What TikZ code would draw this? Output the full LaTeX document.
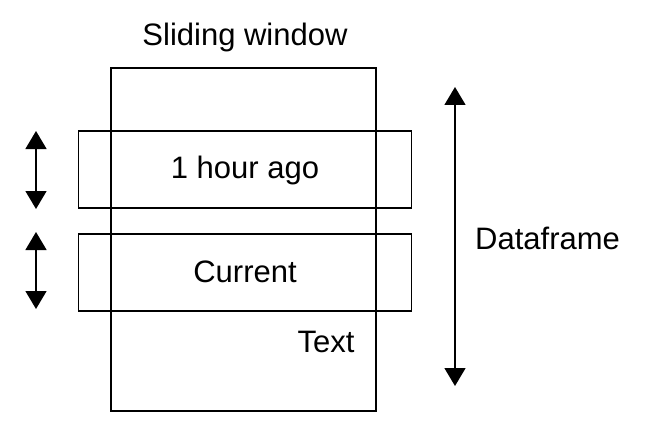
\documentclass[tikz,border=0pt]{standalone}
\usepackage{fontspec}
\setmainfont{Liberation Sans}
\usetikzlibrary{arrows.meta}
\begin{document}
\begin{tikzpicture}[x=1pt,y=-1pt,
  box/.style={draw=black,line width=1.5pt,minimum width=#1,inner sep=0pt,outer sep=0pt},
  lbl/.style={font=\fontsize{31}{34}\selectfont,inner sep=0pt},
  dbl/.style={line width=1.5pt,{Triangle[length=18pt,width=21pt]}-{Triangle[length=18pt,width=21pt]}}]
\useasboundingbox (0,0) rectangle (646,436);
\node[box=265pt,minimum height=343pt] (win) at (243.5,239.5) {};
\node[box=333pt,minimum height=77pt] (hour) at (245,169.5) {};
\node[box=333pt,minimum height=77pt] (cur) at (245,272.5) {};
\node[lbl] (title) at (245,37) {Sliding window};
\node[lbl] (hourlbl) at (245,170) {1 hour ago};
\node[lbl] (curlbl) at (245,272) {Current};
\node[lbl] (text) at (326,342) {Text};
\node[lbl,anchor=west] (df) at (475,238) {Dataframe};
\coordinate (a1t) at (36,131);
\coordinate (a1b) at (36,209);
\coordinate (a2t) at (36,232);
\coordinate (a2b) at (36,309);
\coordinate (dft) at (455,87);
\coordinate (dfb) at (455,386);
\draw[dbl] (a1t) -- (a1b);
\draw[dbl] (a2t) -- (a2b);
\draw[dbl] (dft) -- (dfb);
\end{tikzpicture}
\end{document}
